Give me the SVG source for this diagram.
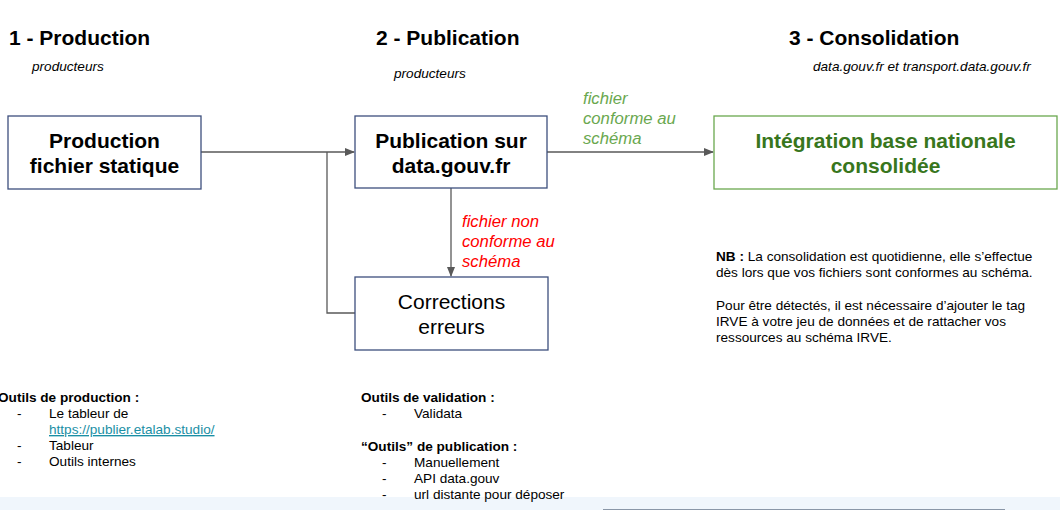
<svg xmlns="http://www.w3.org/2000/svg" width="1060" height="510" viewBox="0 0 1060 510">
<defs>
<marker id="ah" markerWidth="10" markerHeight="8" refX="9" refY="4" orient="auto" markerUnits="userSpaceOnUse">
<path d="M0,0 L10,4 L0,8 z" fill="#595959"/>
</marker>
<style>
text{font-family:"Liberation Sans",Arial,sans-serif;}
.h{font-size:21px;font-weight:bold;fill:#000;}
.sub{font-size:13.6px;font-style:italic;fill:#000;}
.box{fill:#fff;stroke:#3d4f7d;stroke-width:1.3;}
.gbox{fill:#fff;stroke:#6aa84f;stroke-width:1.3;}
.bt{font-size:21px;font-weight:bold;fill:#000;text-anchor:middle;}
.gt{font-size:21px;font-weight:bold;fill:#38761d;text-anchor:middle;}
.rt{font-size:21px;fill:#000;text-anchor:middle;}
.con{fill:none;stroke:#595959;stroke-width:1.3;}
.lg{font-size:16.7px;font-style:italic;fill:#6aa84f;}
.lr{font-size:16.7px;font-style:italic;fill:#ff0000;}
.nb{font-size:13.6px;fill:#000;}
.b{font-weight:bold;}
.link{fill:#1a8fa5;text-decoration:underline;}
</style>
</defs>
<rect x="0" y="0" width="1060" height="510" fill="#fff"/>
<rect x="0" y="497" width="1060" height="13" fill="#f0f6fc"/>
<line x1="603" y1="509.5" x2="1005" y2="509.5" stroke="#8a97a8" stroke-width="1"/>

<text class="h" x="9" y="45">1 - Production</text>
<text class="sub" x="32" y="71">producteurs</text>
<text class="h" x="376" y="45">2 - Publication</text>
<text class="sub" x="394" y="78">producteurs</text>
<text class="h" x="789" y="45">3 - Consolidation</text>
<text class="sub" x="813" y="71">data.gouv.fr et transport.data.gouv.fr</text>

<g id="connectors">
<line class="con" x1="201" y1="152" x2="354" y2="152" marker-end="url(#ah)"/>
<polyline class="con" points="355,313 327,313 327,152"/>
<line class="con" x1="451" y1="188" x2="451" y2="276" marker-end="url(#ah)"/>
<line class="con" x1="547" y1="152" x2="713" y2="152" marker-end="url(#ah)"/>
<text class="lg" x="583" y="104">fichier</text>
<text class="lg" x="583" y="124">conforme au</text>
<text class="lg" x="583" y="144">schéma</text>
<text class="lr" x="462" y="227">fichier non</text>
<text class="lr" x="462" y="247">conforme au</text>
<text class="lr" x="462" y="267">schéma</text>
</g>

<g id="node-production">
<rect class="box" x="8" y="116" width="193" height="73"/>
<text class="bt" x="104.5" y="148">Production</text>
<text class="bt" x="104.5" y="173">fichier statique</text>
</g>
<g id="node-publication">
<rect class="box" x="355" y="116" width="192" height="72"/>
<text class="bt" x="451" y="148">Publication sur</text>
<text class="bt" x="451" y="173">data.gouv.fr</text>
</g>
<g id="node-consolidation">
<rect class="gbox" x="714" y="116" width="343" height="73"/>
<text class="gt" x="885.5" y="148">Intégration base nationale</text>
<text class="gt" x="885.5" y="173">consolidée</text>
</g>
<g id="node-corrections">
<rect class="box" x="355" y="277" width="193" height="73"/>
<text class="rt" x="451.5" y="309">Corrections</text>
<text class="rt" x="451.5" y="334">erreurs</text>
</g>

<g id="note">
<text class="nb" x="716" y="261"><tspan class="b">NB :</tspan> La consolidation est quotidienne, elle s’effectue</text>
<text class="nb" x="716" y="277">dès lors que vos fichiers sont conformes au schéma.</text>
<text class="nb" x="716" y="310">Pour être détectés, il est nécessaire d’ajouter le tag</text>
<text class="nb" x="716" y="326">IRVE à votre jeu de données et de rattacher vos</text>
<text class="nb" x="716" y="342">ressources au schéma IRVE.</text>
</g>

<g id="tools-production">
<text class="nb b" x="-2" y="402">Outils de production :</text>
<text class="nb" x="17" y="418">-</text>
<text class="nb" x="49" y="418">Le tableur de</text>
<text class="nb link" x="49" y="434">https://publier.etalab.studio/</text>
<text class="nb" x="17" y="450">-</text>
<text class="nb" x="49" y="450">Tableur</text>
<text class="nb" x="17" y="466">-</text>
<text class="nb" x="49" y="466">Outils internes</text>
</g>

<g id="tools-publication">
<text class="nb b" x="361" y="402">Outils de validation :</text>
<text class="nb" x="382" y="418">-</text>
<text class="nb" x="414" y="418">Validata</text>
<text class="nb b" x="361" y="451">“Outils” de publication :</text>
<text class="nb" x="382" y="467">-</text>
<text class="nb" x="414" y="467">Manuellement</text>
<text class="nb" x="382" y="483">-</text>
<text class="nb" x="414" y="483">API data.gouv</text>
<text class="nb" x="382" y="499">-</text>
<text class="nb" x="414" y="499">url distante pour déposer</text>
</g>
</svg>
